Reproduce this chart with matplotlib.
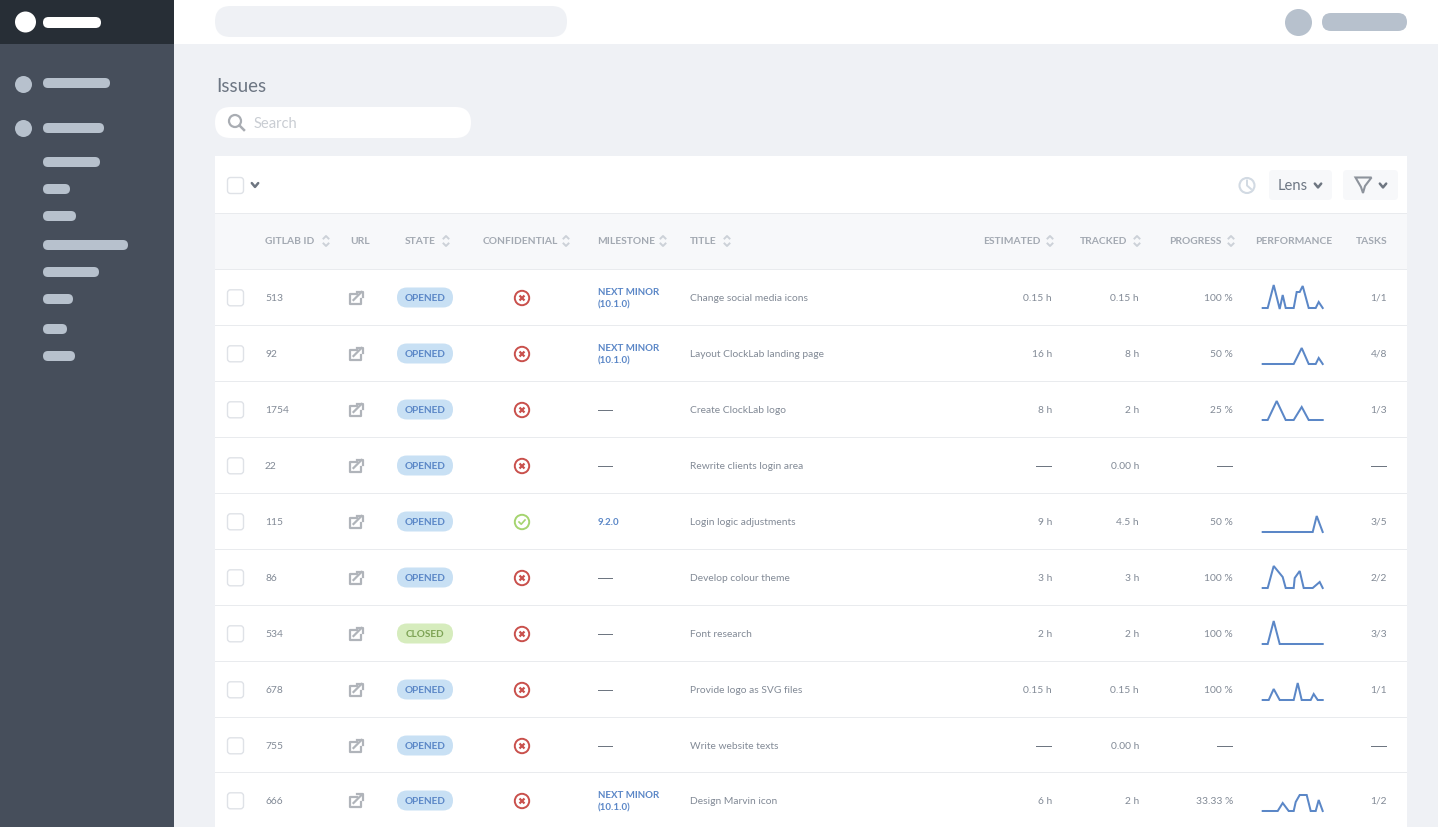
"""Issues table screen, drawn in pixel coordinates on one big axes."""
import matplotlib
matplotlib.use("Agg")
import matplotlib.pyplot as plt
from matplotlib.patches import FancyBboxPatch, Rectangle, Circle, Polygon

plt.rcParams['font.family'] = ['Lato', 'DejaVu Sans']

W, H = 1438, 828

# table data
gitlab_ids = ["513", "92", "1754", "22", "115", "86", "534", "678", "755", "666"]
states = ["OPENED"] * 6 + ["CLOSED"] + ["OPENED"] * 3
confidential = [False, False, False, False, True, False, False, False, False, False]
milestones = ["NEXT MINOR\n(10.1.0)", "NEXT MINOR\n(10.1.0)", None, None, "9.2.0", None, None, None, None,
              "NEXT MINOR\n(10.1.0)"]
titles = ["Change social media icons", "Layout ClockLab landing page", "Create ClockLab logo",
          "Rewrite clients login area", "Login logic adjustments", "Develop colour theme", "Font research",
          "Provide logo as SVG files", "Write website texts", "Design Marvin icon"]
estimated = ["0.15 h", "16 h", "8 h", None, "9 h", "3 h", "2 h", "0.15 h", None, "6 h"]
tracked = ["0.15 h", "8 h", "2 h", "0.00 h", "4.5 h", "3 h", "2 h", "0.15 h", "0.00 h", "2 h"]
progress = ["100 %", "50 %", "25 %", None, "50 %", "100 %", "100 %", "100 %", None, "33.33 %"]
tasks = ["1/1", "4/8", "1/3", None, "3/5", "2/2", "3/3", "1/1", None, "1/2"]
row_centers = [297.5, 353.5, 409.5, 465.5, 521.5, 577.5, 633.5, 689.5, 745.5, 800.5]
row_lines = [325, 381, 437, 493, 549, 605, 661, 717, 772]

# sparklines
spark_t = [
    [0, 5, 11, 17, 20, 23, 31, 34, 37, 40, 46, 53, 56, 60],
    [0, 31, 39, 46, 53, 56, 60],
    [0, 5, 14, 23, 31, 39, 46, 60],
    None,
    [0, 50, 54, 60],
    [0, 5, 11, 20, 23, 31, 32, 37, 41, 50, 57, 60],
    [0, 5, 11, 17, 60],
    [0, 6, 11, 17, 31, 35, 39, 48, 51, 55, 60],
    None,
    [0, 15, 20, 26, 31, 33, 37, 44, 48, 53, 56, 60],
]
spark_v = [
    [0, 0, 23, -1, 13, 0, 0, 16, 16, 22, 0, 0, 6, 0],
    [0, 0, 16, 0, 0, 6, 0],
    [0, 0, 19, 0, 0, 13, 0, 0],
    None,
    [0, 0, 16, 0],
    [0, 0, 22, 11, 0, 0, 10, 17, 0, 0, 6, 0],
    [0, 0, 23, 0, 0],
    [0, 0, 11, 0, 0, 17, 0, 0, 6, 0, 0],
    None,
    [0, 0, 8, 0, 0, 9, 16, 16, 0, 0, 11, 0],
]
spark_base = [309, 365, 421, None, 533, 589, 645, 701, None, 812]

# sidebar skeleton bars: left, top, width
side_main = [(43, 83, 67), (43, 128, 61)]
side_sub = [(43, 162, 57), (43, 189, 27), (43, 216, 33), (43, 245, 85), (43, 272, 56), (43, 299, 30),
            (43, 329, 24), (43, 356, 32)]

TXT = "#828a96"
HEAD = "#a3a9b2"
BLUE = "#5b87c7"
RED = "#c9504c"
GREEN = "#a5d46f"
LINE = "#e9ebee"
BODY_SIZE = 7.35

fig = plt.figure(figsize=(W / 100, H / 100), dpi=100, facecolor="#eff1f5")
ax = fig.add_axes([0, 0, 1, 1])
ax.set_xlim(0, W)
# everything came out one pixel high against the reference
ax.set_ylim(H - 1, -1)
ax.axis("off")


def rect(x, y, w, h, color, z=1):
    ax.add_patch(Rectangle((x, y), w, h, fc=color, ec="none", zorder=z))


def pill(x, y, w, h, color, r=None, ec="none", lw=0, z=2):
    r = h / 2 if r is None else r
    ax.add_patch(FancyBboxPatch((x + r, y + r), w - 2 * r, h - 2 * r, boxstyle=f"round,pad={r}",
                                fc=color, ec=ec, lw=lw, zorder=z))


def dot(x, y, r, color, ec="none", lw=0, z=3):
    ax.add_patch(Circle((x, y), r, fc=color, ec=ec, lw=lw, zorder=z))


def chevron(x, y, color="#6e7681", s=3.2):
    ax.plot([x - s, x, x + s], [y - s * 0.6, y + s * 0.6, y - s * 0.6], color=color, lw=1.8, zorder=4,
            solid_capstyle="round")


def sort_icon(x, y):
    c = "#ccd1d8"
    ax.plot([x - 2.5, x, x + 2.5], [y - 2.5, y - 5, y - 2.5], color=c, lw=1.4, zorder=4)
    ax.plot([x - 2.5, x, x + 2.5], [y + 2.5, y + 5, y + 2.5], color=c, lw=1.4, zorder=4)


def checkbox(x, y):
    pill(x - 8, y - 8, 16, 16, "white", r=3, ec="#dfe2e7", lw=1, z=3)


def link_icon(x, y):
    c = "#b0b4ba"
    ax.plot([x + 1, x - 6, x - 6, x + 5, x + 5], [y - 4, y - 4, y + 6, y + 6, y + 1], color=c, lw=1.6, zorder=4)
    ax.plot([x - 2, x + 6], [y + 2, y - 6], color=c, lw=1.6, zorder=4)
    ax.plot([x + 1, x + 7, x + 7], [y - 6.5, y - 6.5, y - 1], color=c, lw=1.6, zorder=4)


# background blocks
rect(0, 0, 174, H, "#464e5b")
rect(0, 0, 174, 44, "#272e36", 2)
rect(174, 0, W - 174, 44, "white")
rect(215, 156, 1192, H - 156, "white")
rect(215, 214, 1192, 56, "#f7f8fa", 2)
rect(215, 213, 1192, 1, LINE, 3)
rect(215, 269, 1192, 1, LINE, 3)
for y in row_lines:
    rect(215, y, 1192, 1, LINE, 3)

# sidebar
dot(25.5, 22, 10.5, "white")
pill(43, 17, 58, 11, "white", z=3)
dot(23.5, 84.5, 8.5, "#b7c1cd")
dot(23.5, 128.5, 8.5, "#b7c1cd")
for x, y, w in side_main:
    pill(x, y - 5, w, 10, "#b7c1cd")
for x, y, w in side_sub:
    pill(x, y - 5, w, 10, "#b7c1cd")

# top bar
pill(215, 6, 352, 31, "#eff1f5")
dot(1298.5, 22.5, 13.5, "#b7c1cd")
pill(1322, 13, 85, 18, "#b7c1cd")

# heading and search
ax.text(216.5, 86, "Issues", fontsize=13.5, color="#6d7683", va="center", ha="left")
pill(215, 107, 256, 31, "white")
dot(235, 121, 6, "none", ec="#a9adb3", lw=1.6)
ax.plot([239.5, 244], [125.5, 130], color="#a9adb3", lw=1.8, zorder=4)
ax.text(254, 122.5, "Search", fontsize=10.6, color="#c9cdd3", va="center", ha="left")

# toolbar
checkbox(235.5, 185.5)
chevron(255, 185)
dot(1247, 185.5, 7.5, "none", ec="#d2dae3", lw=1.5)
ax.plot([1247, 1247, 1251], [180.5, 185.5, 189], color="#d2dae3", lw=1.4, zorder=4)
pill(1269, 170, 63, 30, "#f7f8fa", r=4)
ax.text(1278, 185.5, "Lens", fontsize=10.6, color="#6d7683", va="center", ha="left", zorder=4)
chevron(1318, 185.5, s=3.2)
pill(1343, 170, 55, 30, "#f7f8fa", r=4)
ax.add_patch(Polygon([(1355.5, 177.5), (1371.5, 177.5), (1365, 186), (1363, 193), (1361, 187)], closed=True,
                     fc="none", ec="#8d939c", lw=1.5, zorder=4))
chevron(1383, 185.5, s=3.2)

# column headers: label, x, anchor, sort icon x
headers = [("GITLAB ID", 265, "left", 326), ("URL", 350, "left", None), ("STATE", 405, "left", 446),
           ("CONFIDENTIAL", 483, "left", 566), ("MILESTONE", 597.5, "left", 663), ("TITLE", 690, "left", 727),
           ("ESTIMATED", 1040, "right", 1050), ("TRACKED", 1127, "right", 1137), ("PROGRESS", 1221, "right", 1231),
           ("PERFORMANCE", 1332, "right", None), ("TASKS", 1387, "right", None)]
for label, x, anchor, icon_x in headers:
    ax.text(x, 241, label, fontsize=7.35, fontweight="bold", color=HEAD, va="center", ha=anchor, zorder=4)
    if icon_x:
        sort_icon(icon_x, 241)

# rows
for i, y in enumerate(row_centers):
    checkbox(235.5, y + 0.3)
    ax.text(265, y, gitlab_ids[i], fontsize=BODY_SIZE, color=TXT, va="center", ha="left", zorder=4)
    link_icon(355.5, y + 0.5)

    closed = states[i] == "CLOSED"
    pill(397, y - 10, 56, 20, "#d6ecbd" if closed else "#c8e0f4")
    ax.text(425, y, states[i], fontsize=7.2, fontweight="bold", color="#7da355" if closed else BLUE,
            va="center", ha="center", zorder=4)

    if confidential[i]:
        dot(522, y + 0.5, 7.2, "white", ec=GREEN, lw=1.4)
        ax.plot([519, 521.2, 525], [y + 0.5, y + 2.7, y - 1.5], color=GREEN, lw=1.2, zorder=4)
    else:
        dot(522, y + 0.5, 7.2, "white", ec=RED, lw=1.4)
        ax.plot([520.3, 523.7], [y - 1.2, y + 2.2], color=RED, lw=1.6, zorder=4)
        ax.plot([520.3, 523.7], [y + 2.2, y - 1.2], color=RED, lw=1.6, zorder=4)

    if milestones[i]:
        ax.text(597.5, y, milestones[i], fontsize=7.0, fontweight="bold", color=BLUE, va="center", ha="left",
                linespacing=1.45, zorder=4)
    else:
        rect(597.5, y, 15, 1, "#6e7681", 4)

    ax.text(690, y, titles[i], fontsize=BODY_SIZE, color=TXT, va="center", ha="left", zorder=4)

    for values, right in ((estimated, 1052), (tracked, 1139), (progress, 1233), (tasks, 1387)):
        if values[i]:
            ax.text(right, y, values[i], fontsize=BODY_SIZE, color=TXT, va="center", ha="right", zorder=4)
        else:
            rect(right - 16, y, 16, 1, "#6e7681", 4)

    if spark_t[i]:
        base = spark_base[i]
        # one small axes per sparkline, value units are px above the baseline
        sp = fig.add_axes([1262.7 / W, 1 - base / H, 60 / W, 24 / H])
        sp.set_xlim(0, 60)
        sp.set_ylim(0, 24)
        sp.axis("off")
        sp.plot(spark_t[i], spark_v[i], color=BLUE, lw=1.45, clip_on=False, solid_joinstyle="miter")

fig.savefig("out.png", dpi=100, facecolor=fig.get_facecolor())
